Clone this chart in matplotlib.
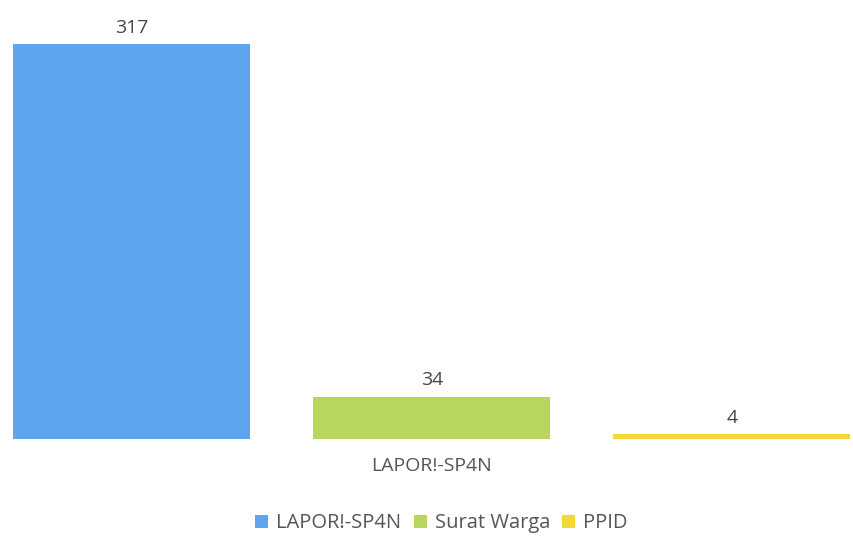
import matplotlib.pyplot as plt

# data
category = "LAPOR!-SP4N"
series = ["LAPOR!-SP4N", "Surat Warga", "PPID"]
values = [317, 34, 4]
colors = ["#5ea5f0", "#b6d65c", "#f5d835"]

plt.rcParams['font.family'] = ['Open Sans', 'DejaVu Sans']

fig = plt.figure(figsize=(8.54, 5.38), dpi=100)
ax = fig.add_axes([0, 0.184, 1, 0.8106])

pos = [0, 1, 2]
for i in range(len(series)):
    ax.bar(pos[i], values[i], width=0.79, color=colors[i], label=series[i])
    ax.text(pos[i], values[i] + 6, str(values[i]), ha='center', va='bottom',
            fontsize=14, color='#454545')

ax.set_xlim(-0.44, 2.407)
ax.set_ylim(0, 350)
ax.set_xticks([1])
ax.set_xticklabels([category], fontsize=14, color='#555555')
ax.tick_params(axis='x', length=0, pad=13)
ax.set_yticks([])
for s in ax.spines.values():
    s.set_visible(False)

fig.legend(loc='center', bbox_to_anchor=(0.517, 0.027), ncol=3, frameon=False,
           fontsize=14.5, labelcolor='#555555', handlelength=0.65, handleheight=0.65,
           handletextpad=0.4, columnspacing=0.6)

fig.savefig('out.png', dpi=100)
